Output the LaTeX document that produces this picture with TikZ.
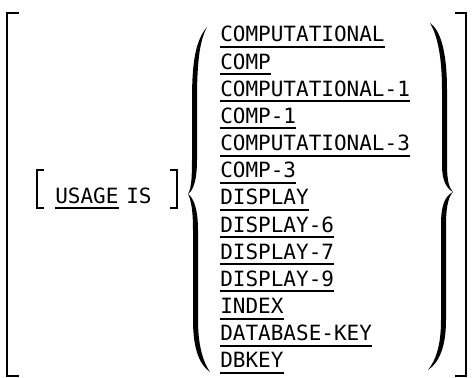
\documentclass[tikz,border=0pt]{standalone}
\usepackage{fontspec}
\setmonofont{DejaVu Sans Mono}
\begin{document}
\begin{tikzpicture}[x=0.75pt,y=-0.75pt,
  lbl/.style={anchor=base west,inner sep=0pt,font=\ttfamily\fontsize{15.75}{18}\selectfont},
  ul/.style={line width=1.5pt},
  brk/.style={line width=1.8pt},
  ibrk/.style={line width=1.5pt}]
\useasboundingbox (0,0) rectangle (475,378);
% outer brackets
\draw[brk] (19,13) -- (7,13) -- (7,376) -- (19,376);
\draw[brk] (455,13) -- (466,13) -- (466,376) -- (455,376);
% inner brackets
\draw[ibrk] (44,170) -- (37,170) -- (37,208) -- (44,208);
\draw[ibrk] (170,170) -- (177,170) -- (177,208) -- (170,208);
% USAGE IS
\node[lbl] (usage) at (55,203) {USAGE};
\node[lbl] (is) at (126,203) {IS};
\draw[ul] ([yshift=-3.75pt]usage.base west) -- ([yshift=-3.75pt]usage.base east);
% left brace
\fill (207,27) .. controls (196,40) and (192,60) .. (192,100) -- (192,160)
  .. controls (192,180) and (191,189) .. (188,194)
  .. controls (191,200) and (193,210) .. (193,230) -- (193,320)
  .. controls (193,350) and (200,365) .. (210,372)
  .. controls (203,362) and (198,345) .. (198,320) -- (198,230)
  .. controls (198,210) and (194,198) .. (188,194)
  .. controls (194,190) and (197,178) .. (197,160) -- (197,100)
  .. controls (197,60) and (200,40) .. (207,27) -- cycle;
% right brace
\fill (430,23) .. controls (440,30) and (447,50) .. (447,90) -- (447,165)
  .. controls (447,180) and (449,188) .. (453,192)
  .. controls (449,196) and (446,205) .. (446,225) -- (446,320)
  .. controls (446,345) and (440,362) .. (428,370)
  .. controls (436,360) and (441,345) .. (441,320) -- (441,225)
  .. controls (441,205) and (445,196) .. (453,192)
  .. controls (446,188) and (442,180) .. (442,165) -- (442,90)
  .. controls (442,55) and (437,35) .. (430,23) -- cycle;
% options
\foreach \t [count=\i from 0] in {COMPUTATIONAL,COMP,COMPUTATIONAL-1,COMP-1,COMPUTATIONAL-3,COMP-3,DISPLAY,DISPLAY-6,DISPLAY-7,DISPLAY-9,INDEX,DATABASE-KEY,DBKEY}{
  \node[lbl] (o\i) at (220,42+27.15*\i) {\t};
  \draw[ul] ([yshift=-3.75pt]o\i.base west) -- ([yshift=-3.75pt]o\i.base east);
}
\end{tikzpicture}
\end{document}
